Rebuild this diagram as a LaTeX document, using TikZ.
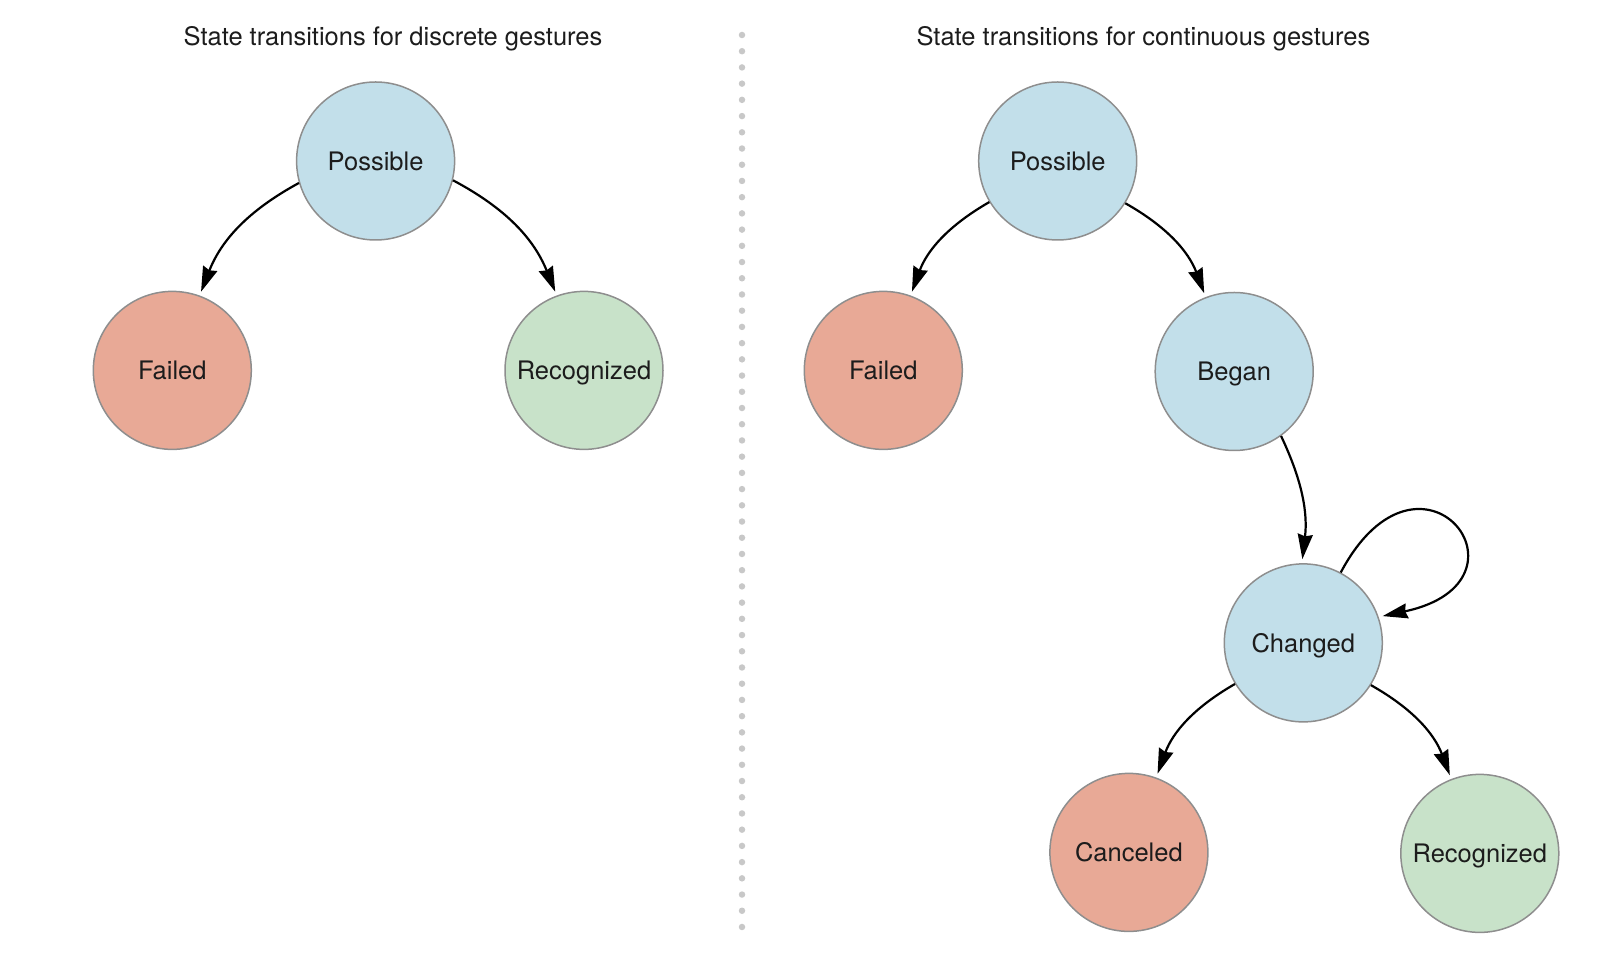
\documentclass[tikz,border=0pt]{standalone}
\usepackage{fontspec}
\setmainfont{TeX Gyre Heros}
\usetikzlibrary{arrows.meta}
\definecolor{stblue}{HTML}{C2DFEA}
\definecolor{stred}{HTML}{E8A996}
\definecolor{stgreen}{HTML}{C8E2C9}
\definecolor{stborder}{HTML}{8E8E8E}
\definecolor{sttext}{HTML}{1C1C1C}
\definecolor{stdots}{HTML}{C8C8C8}
\tikzset{
  state/.style={circle, draw=stborder, line width=1.5pt, minimum size=158pt, inner sep=0pt,
    text=sttext, font=\fontsize{25.5}{30}\selectfont, text height=18.4pt, text depth=0pt},
  bluestate/.style={state, fill=stblue},
  redstate/.style={state, fill=stred},
  greenstate/.style={state, fill=stgreen},
  title/.style={text=sttext, font=\fontsize{25.5}{30}\selectfont, inner sep=0pt,
    text height=18.4pt, text depth=0pt},
  trans/.style={line width=2.2pt, black, shorten >=4pt,
    -{Stealth[length=25pt,width=15pt,inset=2pt]}},
}
\begin{document}
\begin{tikzpicture}[x=1pt,y=1pt]
\useasboundingbox (0,0) rectangle (1618,964);
% titles
\node[title] (t1) at (393,928) {State transitions for discrete gestures};
\node[title] (t2) at (1143.4,928) {State transitions for continuous gestures};
% divider
\coordinate (d1) at (742,929);
\coordinate (d2) at (742,37);
\draw[stdots, line width=6.5pt, line cap=round, dash pattern=on 0pt off 16.218pt] (d1) -- (d2);
% left diagram
\node[bluestate] (lp) at (375.6,803) {Possible};
\node[redstate] (lf) at (172.3,593.6) {Failed};
\node[greenstate] (lr) at (584,593.6) {Recognized};
\draw[trans] (lp.196) to[bend right=20] (lf.70);
\draw[trans] (lp.-14) to[bend left=20] (lr.110);
% right diagram
\node[bluestate] (rp) at (1057.7,803) {Possible};
\node[redstate] (rf) at (883.3,593.6) {Failed};
\node[bluestate] (rb) at (1234.2,592.5) {Began};
\node[bluestate] (rc) at (1303.3,321.1) {Changed};
\node[redstate] (rx) at (1128.9,111.6) {Canceled};
\node[greenstate] (rr) at (1479.8,110.6) {Recognized};
\draw[trans] (rp.211) to[bend right=20] (rf.70);
\draw[trans] (rp.-32) to[bend left=20] (rb.111);
\draw[trans] (rb.-54) to[bend left=16] (rc.91);
\draw[trans] (rc.62) .. controls +(62:170) and +(12:170) .. (rc.19);
\draw[trans] (rc.211) to[bend right=20] (rx.70);
\draw[trans] (rc.-32) to[bend left=20] (rr.111);
\end{tikzpicture}
\end{document}
